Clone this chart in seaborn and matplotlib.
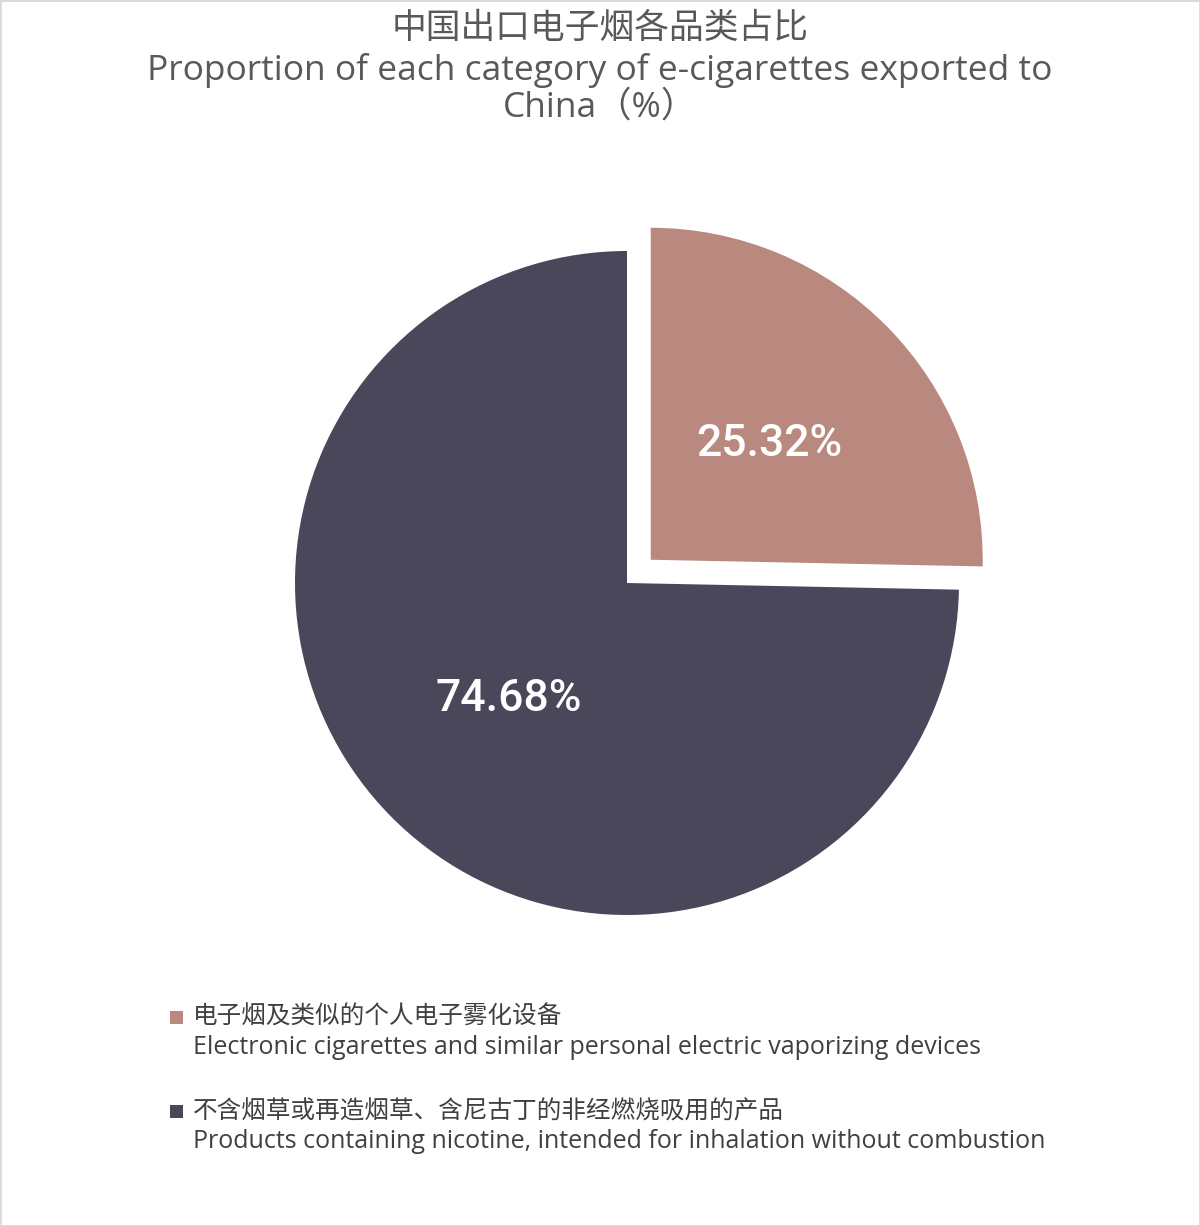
"""
中国出口电子烟各品类占比 饼图
"""
import matplotlib
matplotlib.use('Agg')
import matplotlib.pyplot as plt
from matplotlib.patches import Rectangle
import seaborn as sns

# 数据
labels_cn = ['电子烟及类似的个人电子雾化设备',
             '不含烟草或再造烟草、含尼古丁的非经燃烧吸用的产品']
labels_en = ['Electronic cigarettes and similar personal electric vaporizing devices',
             'Products containing nicotine, intended for inhalation without combustion']
shares = [25.32, 74.68]
colors = ['#B98980', '#4A475B']

title_cn = '中国出口电子烟各品类占比'
title_en = ['Proportion of each category of e-cigarettes exported to', 'China（%）']

sns.set_theme(style='white')
plt.rcParams['font.family'] = ['Noto Sans CJK SC', 'DejaVu Sans']
latin = ['Open Sans', 'Noto Sans CJK SC', 'DejaVu Sans']

W, H = 1200, 1226
fig = plt.figure(figsize=(W / 100, H / 100), dpi=100)
fig.patch.set_facecolor('white')

# 饼图：半径约 332 像素，中心 (627, 583)
R, cx, cy = 332, 627, 583
span = 2.4 * R
ax = fig.add_axes([(cx - span / 2) / W, (H - cy - span / 2) / H, span / W, span / H])
wedges, _, autotexts = ax.pie(
    shares, colors=colors, startangle=90, counterclock=False,
    explode=[0.1, 0], autopct='%.2f%%', pctdistance=0.5, radius=1,
    wedgeprops=dict(linewidth=0),
    textprops=dict(color='white', fontsize=32, fontweight='medium',
                   family=['Roboto', 'Liberation Sans', 'DejaVu Sans']))
ax.set_xlim(-1.2, 1.2)
ax.set_ylim(-1.2, 1.2)
ax.set_aspect('equal')
ax.axis('off')

# 标题
title_color = '#595959'
fig.text(0.5, 1 - 28 / H, title_cn, ha='center', va='center', fontsize=25, color=title_color)
fig.text(0.5, 1 - 70 / H, title_en[0], ha='center', va='center', fontsize=25.5,
         color=title_color, family=latin)
fig.text(0.5, 1 - 108 / H, title_en[1], ha='center', va='center', fontsize=25.5,
         color=title_color, family=latin)

# 图例
legend_y = [1017, 1111]
for i, y in enumerate(legend_y):
    fig.patches.append(Rectangle((170 / W, 1 - (y + 7) / H), 13 / W, 13 / H,
                                 transform=fig.transFigure, facecolor=colors[i],
                                 edgecolor='none'))
    fig.text(193 / W, 1 - y / H, labels_cn[i], ha='left', va='center',
             fontsize=17.7, color='#404040')
    fig.text(193 / W, 1 - (y + 30) / H, labels_en[i], ha='left', va='center',
             fontsize=18, color='#404040', family=latin)

# 外框
fig.patches.append(Rectangle((0, 0), 1, 1, transform=fig.transFigure,
                             facecolor='none', edgecolor='#D9D9D9', linewidth=2))

plt.savefig('out.png', dpi=100)
plt.close()
